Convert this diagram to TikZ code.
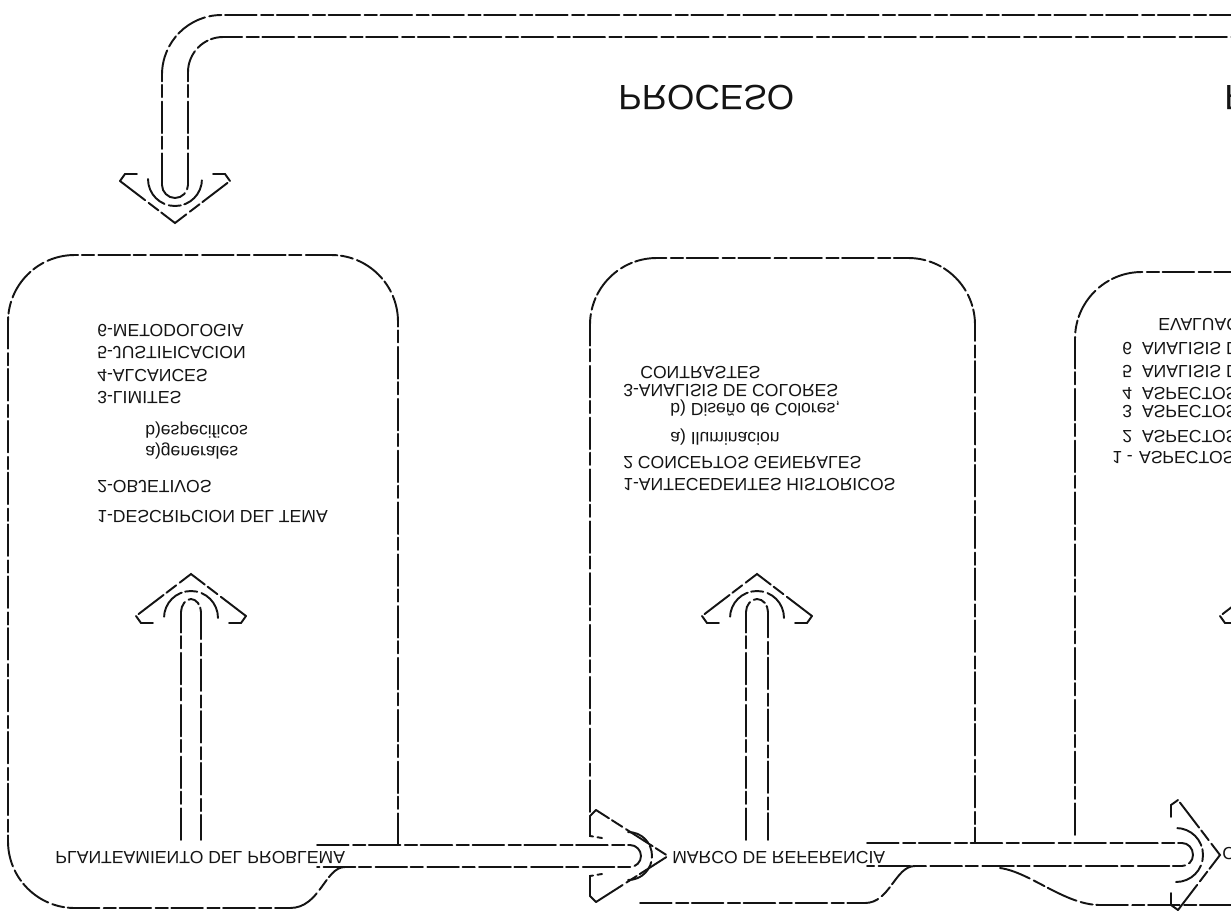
\documentclass[tikz,border=0pt]{standalone}
\usepackage{graphicx}
\usepackage{fontspec}
\setmainfont{Liberation Sans}
\usetikzlibrary{positioning}
\definecolor{tinta}{HTML}{141414}
\newcommand{\volteado}[1]{\scalebox{1}[-1]{#1}}
\tikzset{
    trazo/.style={
        line width=1.1pt,
        color=tinta,
        dash pattern=on 18pt off 2.5pt on 7pt off 2pt,
        line cap=round
    },
    caja/.style={
        trazo,
        rounded corners=38pt
    },
    lista/.style={
        font=\fontsize{10}{12}\selectfont,
        color=tinta,
        anchor=west,
        inner sep=0pt
    },
    titulo/.style={
        font=\fontsize{20}{24}\selectfont,
        color=tinta,
        anchor=west,
        inner sep=0pt
    },
    punta/.pic={
        \draw[trazo] (-55,-4) -- (0,38) -- (55,-4);
        \draw[trazo] (-55,-4) -- (-50,-11) -- (-38,-11);
        \draw[trazo] (55,-4) -- (50,-11) -- (38,-11);
        \draw[trazo] (-27,-6) .. controls (-27,9) and (-15,21) .. (0,21)
            .. controls (15,21) and (27,9) .. (27,-6);
    },
    puntalarga/.pic={
        \draw[trazo] (-46,-34) -- (0,38) -- (46,-34);
        \draw[trazo] (-46,-34) -- (-40,-40) -- (-20,-40) -- (-18,-28);
        \draw[trazo] (46,-34) -- (40,-40) -- (20,-40) -- (18,-28);
        \draw[trazo] (-24,-2) .. controls (-24,12) and (-13,22) .. (0,22)
            .. controls (13,22) and (24,12) .. (24,-2);
    }
}

\begin{document}
\begin{tikzpicture}[x=0.02cm,y=-0.02cm]

    \useasboundingbox (0,0) rectangle (1231,914);
    \clip (0,0) rectangle (1231,914);

    % Flecha de retorno
    \draw[trazo,rounded corners=34pt]
        (162,185) -- (162,15) -- (1260,15);
    \draw[trazo,rounded corners=20pt]
        (188,185) -- (188,37) -- (1260,37);
    \draw[trazo]
        (162,185) .. controls (162,192) and (168,198) .. (175,198)
        .. controls (182,198) and (188,192) .. (188,185);
    \pic at (175,185) {punta};

    % Titulos
    \node[titulo] (proceso) at (618,98) {\volteado{PROCESO}};
    \node[titulo] (producto) at (1224,98) {\volteado{PRODUCTO}};

    % Caja 1
    \draw[caja]
        (398,845) -- (398,255) -- (8,255) -- (8,908) -- (290,908);
    \draw[trazo]
        (290,908) .. controls (320,908) and (325,867) .. (345,867);

    % Caja 2
    \draw[caja]
        (590,812) -- (590,258) -- (975,258) -- (975,843);
    \draw[trazo]
        (640,903) -- (865,903)
        .. controls (890,903) and (895,866) .. (915,866);

    % Caja 3
    \draw[caja]
        (1075,835) -- (1075,272) -- (1260,272);
    \draw[trazo]
        (1000,868) .. controls (1030,872) and (1065,905) .. (1100,905)
        -- (1260,905);

    % Flechas verticales
    \draw[trazo] (181,840) -- (181,612)
        .. controls (181,605) and (186,599) .. (191,599)
        .. controls (196,599) and (201,605) .. (201,612) -- (201,840);
    \pic[rotate=180] at (191,612) {punta};

    \draw[trazo] (746,840) -- (746,612)
        .. controls (746,605) and (751,599) .. (757,599)
        .. controls (763,599) and (768,605) .. (768,612) -- (768,840);
    \pic[rotate=180] at (757,612) {punta};

    \pic[rotate=180] at (1275,612) {punta};

    % Flechas horizontales
    \draw[trazo] (317,845) -- (630,845)
        .. controls (636,845) and (641,850) .. (641,856)
        .. controls (641,862) and (636,867) .. (630,867) -- (317,867);
    \pic[rotate=90] at (630,856) {puntalarga};

    \draw[trazo] (867,843) -- (1182,843)
        .. controls (1188,843) and (1193,848) .. (1193,855)
        .. controls (1193,861) and (1188,866) .. (1182,866) -- (867,866);
    \pic[rotate=90] at (1182,855) {punta};

    % Etiquetas de las flechas
    \node[lista] (planteamiento) at (55,858) {\volteado{PLANTEAMIENTO DEL PROBLEMA}};
    \node[lista] (marco) at (672,858) {\volteado{MARCO DE REFERENCIA}};
    \node[lista] (conclusiones) at (1222,854) {\volteado{CONCLUSIONES}};

    % Lista caja 1
    \node[lista] (met) at (97,331) {\volteado{6-METODOLOGIA}};
    \node[lista] (jus) at (97,353) {\volteado{5-JUSTIFICACION}};
    \node[lista] (alc) at (97,376) {\volteado{4-ALCANCES}};
    \node[lista] (lim) at (97,398) {\volteado{3-LIMITES}};
    \node[lista] (esp) at (145,430) {\volteado{b)especificos}};
    \node[lista] (gen) at (145,451) {\volteado{a)generales}};
    \node[lista] (obj) at (97,487) {\volteado{2-OBJETIVOS}};
    \node[lista] (des) at (97,517) {\volteado{1-DESCRIPCION DEL TEMA}};

    % Lista caja 2
    \node[lista] (con) at (640,373) {\volteado{CONTRASTES}};
    \node[lista] (ana) at (623,391) {\volteado{3-ANALISIS DE COLORES}};
    \node[lista] (dis) at (670,408) {\volteado{b) Diseño de Colores,}};
    \node[lista] (ilu) at (670,437) {\volteado{a) Iluminacion}};
    \node[lista] (cpt) at (623,463) {\volteado{2 CONCEPTOS GENERALES}};
    \node[lista] (ant) at (623,485) {\volteado{1-ANTECEDENTES HISTORICOS}};

    % Lista caja 3
    \node[lista] (eva) at (1158,325) {\volteado{EVALUACION}};
    \node[lista] (an6) at (1122,349) {\volteado{\makebox[28\pgflinewidth][l]{6}ANALISIS DE USUARIOS}};
    \node[lista] (an5) at (1122,372) {\volteado{\makebox[28\pgflinewidth][l]{5}ANALISIS DEL SITIO}};
    \node[lista] (as4) at (1122,394) {\volteado{\makebox[28\pgflinewidth][l]{4}ASPECTOS URBANOS}};
    \node[lista] (as3) at (1122,412) {\volteado{\makebox[28\pgflinewidth][l]{3}ASPECTOS ECONOMICOS}};
    \node[lista] (as2) at (1122,437) {\volteado{\makebox[28\pgflinewidth][l]{2}ASPECTOS SOCIALES}};
    \node[lista] (as1) at (1112,458) {\volteado{\makebox[38\pgflinewidth][l]{1 -}ASPECTOS FISICOS}};

\end{tikzpicture}
\end{document}
